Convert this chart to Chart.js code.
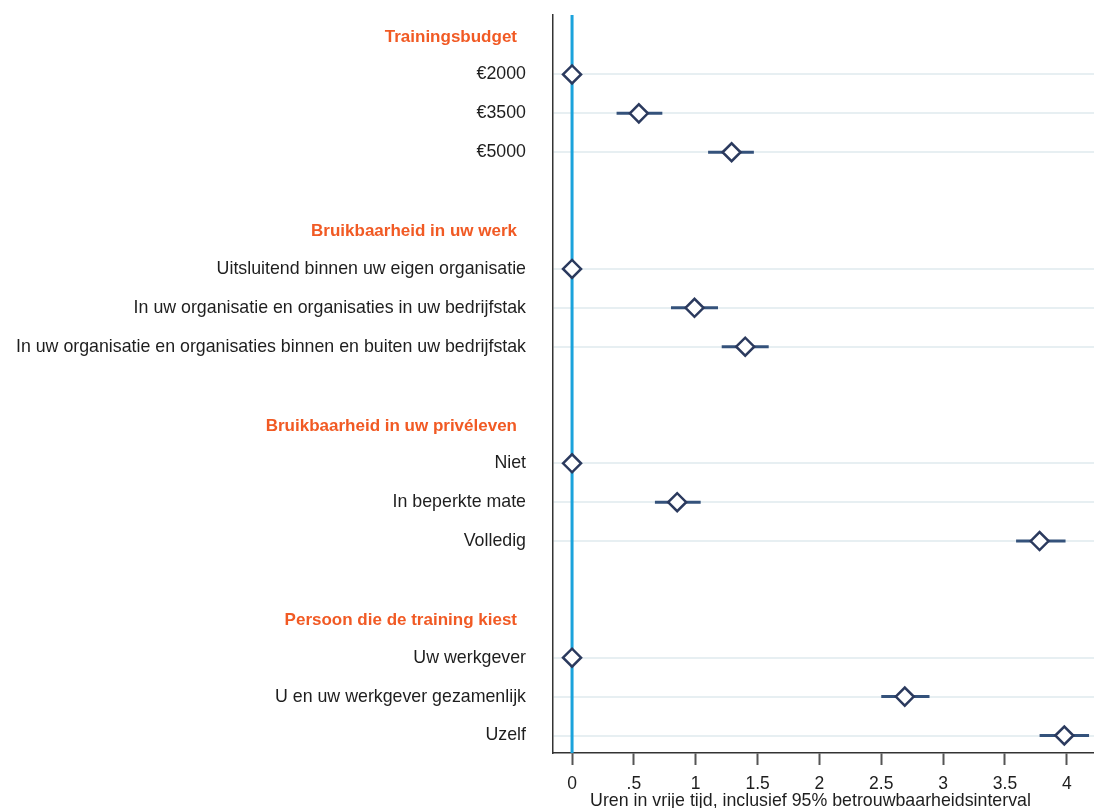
<!DOCTYPE html>
<html>
<head>
<meta charset="utf-8">
<title>Uren in vrije tijd</title>
<script src="https://cdn.jsdelivr.net/npm/chart.js@4/dist/chart.umd.min.js"></script>
<style>
  html, body { margin: 0; padding: 0; background: #ffffff; }
  #wrap { width: 1094px; height: 808px; }
</style>
</head>
<body>
<div id="wrap"><canvas id="c" width="1094" height="808"></canvas></div>
<script>
// Attribute groups and their levels (first level of each group is the reference)
const groupTitles = [
  'Trainingsbudget',
  'Bruikbaarheid in uw werk',
  'Bruikbaarheid in uw privéleven',
  'Persoon die de training kiest'
];
const categories = [
  '€2000', '€3500', '€5000',
  'Uitsluitend binnen uw eigen organisatie',
  'In uw organisatie en organisaties in uw bedrijfstak',
  'In uw organisatie en organisaties binnen en buiten uw bedrijfstak',
  'Niet', 'In beperkte mate', 'Volledig',
  'Uw werkgever', 'U en uw werkgever gezamenlijk', 'Uzelf'
];
const categoryGroup = [0, 0, 0, 1, 1, 1, 2, 2, 2, 3, 3, 3];

// Estimated hours with 95% confidence bounds (null = reference level)
const estimates = [0, 0.54, 1.29, 0, 0.99, 1.40, 0, 0.85, 3.78, 0, 2.69, 3.98];
const ciLow     = [null, 0.36, 1.10, null, 0.80, 1.21, null, 0.67, 3.59, null, 2.50, 3.78];
const ciHigh    = [null, 0.73, 1.47, null, 1.18, 1.59, null, 1.04, 3.99, null, 2.89, 4.18];

// Horizontal axis
const xTicks = [0, 0.5, 1, 1.5, 2, 2.5, 3, 3.5, 4];
const xTickLabels = ['0', '.5', '1', '1.5', '2', '2.5', '3', '3.5', '4'];
const xTitle = 'Uren in vrije tijd, inclusief 95% betrouwbaarheidsinterval';
const referenceX = 0;

// Row layout: a header row per group, its levels, then an empty spacer row
const headerRow = [];
const categoryRow = [];
let row = 0;
groupTitles.forEach((g, gi) => {
  headerRow[gi] = row++;
  categories.forEach((c, ci) => { if (categoryGroup[ci] === gi) categoryRow[ci] = row++; });
  row++;
});
const lastRow = row - 2;
const yMin = -0.53, yMax = lastRow + 0.45;

const FONT = '"Liberation Sans", Arial, sans-serif';
const NAVY = '#2b3a5e';
const CI_COLOR = '#34527b';
const REF_COLOR = '#1ba3dc';
const ORANGE = '#f15a24';
const TEXT = '#1e1e1e';

const ciSets = [];
categories.forEach((c, i) => {
  if (ciLow[i] === null) return;
  ciSets.push({
    data: [{ x: ciLow[i], y: categoryRow[i] }, { x: ciHigh[i], y: categoryRow[i] }],
    showLine: true,
    borderColor: CI_COLOR,
    borderWidth: 3,
    pointRadius: 0,
    order: 1
  });
});

const rowLabels = {
  id: 'rowLabels',
  afterDraw(chart) {
    const ctx = chart.ctx;
    const ys = chart.scales.y;
    const area = chart.chartArea;
    ctx.save();
    ctx.textAlign = 'right';
    ctx.textBaseline = 'middle';
    ctx.font = 'bold 17px ' + FONT;
    ctx.fillStyle = ORANGE;
    groupTitles.forEach((g, gi) => {
      ctx.fillText(g, area.left - 36, ys.getPixelForValue(headerRow[gi]) + 1.5);
    });
    ctx.font = '17.8px ' + FONT;
    ctx.fillStyle = TEXT;
    categories.forEach((c, i) => {
      ctx.fillText(c, area.left - 27, ys.getPixelForValue(categoryRow[i]));
    });
    ctx.textAlign = 'center';
    ctx.fillText(xTitle, (area.left + area.right) / 2 - 13, chart.height - 7);
    ctx.restore();
  }
};

new Chart(document.getElementById('c'), {
  type: 'scatter',
  data: {
    datasets: [
      {
        data: categories.map((c, i) => ({ x: estimates[i], y: categoryRow[i] })),
        pointStyle: 'rectRot',
        pointRadius: 9,
        borderWidth: 2.5,
        borderColor: NAVY,
        backgroundColor: '#ffffff',
        order: 0
      },
      ...ciSets,
      {
        data: [{ x: referenceX, y: yMin }, { x: referenceX, y: yMax }],
        showLine: true,
        borderColor: REF_COLOR,
        borderWidth: 3,
        pointRadius: 0,
        order: 2
      }
    ]
  },
  options: {
    responsive: false,
    animation: false,
    devicePixelRatio: 1,
    events: [],
    layout: { autoPadding: false, padding: { top: 15, right: 0, bottom: 0, left: 0 } },
    plugins: { legend: { display: false }, tooltip: { enabled: false } },
    scales: {
      x: {
        type: 'linear',
        min: -0.154,
        max: 4.22,
        afterBuildTicks: s => { s.ticks = xTicks.map(v => ({ value: v })); },
        afterFit: s => { s.height = 55; s.paddingLeft = 0; s.paddingRight = 0; },
        ticks: {
          callback: (v, i) => xTickLabels[i],
          font: { family: FONT, size: 17.5 },
          color: TEXT,
          padding: 9,
          autoSkip: false,
          maxRotation: 0
        },
        grid: {
          drawOnChartArea: false,
          drawTicks: true,
          tickLength: 12,
          tickColor: '#555555',
          tickWidth: 2
        },
        border: { display: true, color: '#333333', width: 1.5 }
      },
      y: {
        type: 'linear',
        reverse: true,
        min: yMin,
        max: yMax,
        afterBuildTicks: s => { s.ticks = categoryRow.map(v => ({ value: v })); },
        afterFit: s => { s.width = 553; s.paddingTop = 0; s.paddingBottom = 0; },
        ticks: { display: false },
        grid: { color: '#e7eff2', lineWidth: 2, drawTicks: false },
        border: { display: true, color: '#333333', width: 1.5 }
      }
    }
  },
  plugins: [rowLabels]
});
</script>
</body>
</html>
